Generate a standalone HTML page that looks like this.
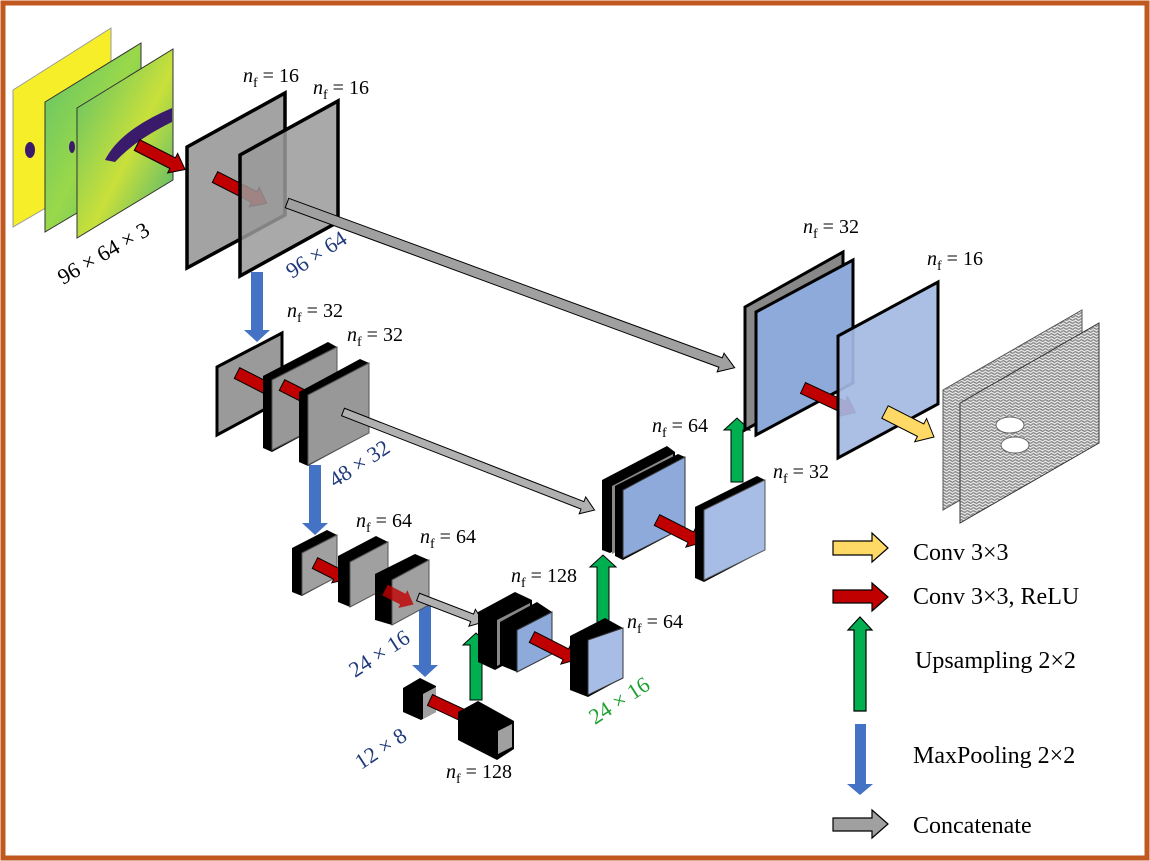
<!DOCTYPE html>
<html><head><meta charset="utf-8"><style>
html,body{margin:0;padding:0;background:#fff}
svg{display:block}
text{font-family:"Liberation Serif",serif}
</style></head><body>
<svg width="1150" height="861" viewBox="0 0 1150 861" xmlns="http://www.w3.org/2000/svg">
<defs>
<linearGradient id="gg" x1="0" y1="0" x2="1" y2="1"><stop offset="0" stop-color="#5ec26a"/><stop offset="0.5" stop-color="#9ad84a"/><stop offset="1" stop-color="#4fba74"/></linearGradient>
<linearGradient id="gg2" x1="0" y1="0" x2="1" y2="1"><stop offset="0" stop-color="#56c06c"/><stop offset="0.55" stop-color="#c9e03a"/><stop offset="1" stop-color="#3fb07a"/></linearGradient>
<pattern id="wav" width="6" height="3" patternUnits="userSpaceOnUse"><rect width="6" height="3" fill="#e2e2e2"/><path d="M0,1.5 Q1.5,0 3,1.5 T6,1.5" stroke="#6a6a6a" stroke-width="0.9" fill="none"/></pattern>
</defs>
<rect x="3" y="3" width="1144" height="855" fill="#fff" stroke="#c0581f" stroke-width="5"/>

<!-- input images -->
<polygon points="13,90 111,28 111,170 13,227" fill="#f7ee2a" stroke="#999" stroke-width="1"/>
<polygon points="45,102 141,43 141,175 45,232" fill="url(#gg)" stroke="#333" stroke-width="1"/>
<ellipse cx="30" cy="150" rx="5" ry="8" fill="#3a1b6b"/>
<ellipse cx="72" cy="147" rx="3" ry="6" fill="#3a1b6b"/>
<polygon points="77,108 173,49 173,180 77,238" fill="url(#gg2)" stroke="#333" stroke-width="1"/>
<path d="M105,160 Q120,130 172,108 L172,122 Q135,140 115,162 Z" fill="#3a1b6b"/>
<text x="0" y="0" font-size="22" transform="translate(63,285) rotate(-30)">96 × 64 × 3</text>

<!-- level1 grey planes -->
<polygon points="187,147 285,93 285,215 187,268" fill="#a3a3a3" stroke="#000" stroke-width="3.5"/>
<g transform="translate(215,177) rotate(27)"><polygon points="0,-6 44,-6 44,-11 58,0 44,11 44,6 0,6" fill="#c00000" stroke="#000" stroke-width="1"/></g>
<polygon points="240,155 338,101 338,222 240,276" fill="#9a9a9a" fill-opacity="0.85" stroke="#000" stroke-width="3.5"/>
<g transform="translate(137,145) rotate(27)"><polygon points="0,-6 40,-6 40,-11 54,0 40,11 40,6 0,6" fill="#c00000" stroke="#000" stroke-width="1"/></g>
<text x="0" y="0" font-size="22" fill="#1f3a7a" transform="translate(292,279) rotate(-33)">96 × 64</text>

<!-- concat long -->
<g transform="translate(287,203) rotate(20.2)"><polygon points="0,-5 462,-5 462,-10 477,0 462,10 462,5 0,5" fill="#a0a0a0" stroke="#000" stroke-width="1"/></g>

<!-- blue down arrows -->
<polygon points="251,272 263,272 263,330 270,330 257,342 244,330 251,330" fill="#4472c4"/>
<polygon points="309,465 321,465 321,523 328,523 315,535 302,523 309,523" fill="#4472c4"/>
<polygon points="419,605 431,605 431,665 438,665 425,677 412,665 419,665" fill="#4472c4"/>

<!-- level2 -->
<polygon points="217,367 282,333 282,400 217,435" fill="#9a9a9a" stroke="#000" stroke-width="3"/>
<g transform="translate(237,373) rotate(27)"><polygon points="0,-6 40,-6 40,-11 54,0 40,11 40,6 0,6" fill="#c00000" stroke="#000" stroke-width="1"/></g>
<polygon points="263,376 328,342 337,347 337,417 272,452 263,448" fill="#000"/>
<polygon points="272,380 337,347 337,417 272,450" fill="#a8a8a8" fill-opacity="0.9" stroke="#555" stroke-width="1"/>
<g transform="translate(282,385) rotate(27)"><polygon points="0,-6 42,-6 42,-11 56,0 42,11 42,6 0,6" fill="#c00000" stroke="#000" stroke-width="1"/></g>
<polygon points="299,392 360,359 369,363 369,433 308,466 299,462" fill="#000"/>
<polygon points="308,395 369,363 369,433 308,465" fill="#a8a8a8" fill-opacity="0.9" stroke="#555" stroke-width="1"/>
<text x="0" y="0" font-size="22" fill="#1f3a7a" transform="translate(335,488) rotate(-33)">48 × 32</text>
<g transform="translate(343,412) rotate(21.3)"><polygon points="0,-4 257,-4 257,-9 270,0 257,9 257,4 0,4" fill="#b0b0b0" stroke="#000" stroke-width="1"/></g>

<!-- level3 -->
<polygon points="292,548 327,530 337,535 337,577 302,596 292,592" fill="#000"/>
<polygon points="302,553 337,535 337,577 302,595" fill="#a0a0a0" stroke="#555" stroke-width="1"/>
<g transform="translate(315,563) rotate(27)"><polygon points="0,-6 24,-6 24,-10 36,0 24,10 24,6 0,6" fill="#c00000" stroke="#000" stroke-width="1"/></g>
<polygon points="338,556 376,536 388,542 388,587 350,607 338,602" fill="#000"/>
<polygon points="350,562 388,542 388,587 350,607" fill="#a0a0a0" stroke="#555" stroke-width="1"/>
<polygon points="375,574 415,554 429,560 429,605 392,625 375,620" fill="#000"/>
<polygon points="392,580 429,560 429,605 392,625" fill="#a0a0a0" stroke="#555" stroke-width="1"/>
<g transform="translate(385,590) rotate(27)"><polygon points="0,-6 20,-6 20,-10 32,0 20,10 20,6 0,6" fill="#c00000" fill-opacity="0.8"/></g>
<text x="0" y="0" font-size="22" fill="#1f3a7a" transform="translate(355,678) rotate(-33)">24 × 16</text>
<g transform="translate(418,597) rotate(21)"><polygon points="0,-4 58,-4 58,-9 70,0 58,9 58,4 0,4" fill="#b0b0b0" stroke="#000" stroke-width="1"/></g>

<!-- level4 -->
<polygon points="403,688 420,678 436,686 436,712 421,720 403,712" fill="#000"/>
<polygon points="423,694 436,687 436,712 423,719" fill="#a0a0a0"/>
<g transform="translate(430,700) rotate(25)"><polygon points="0,-6 38,-6 38,-6 38,6 0,6" fill="#c00000" stroke="#000" stroke-width="1"/></g>
<polygon points="458,712 478,701 514,721 514,749 497,760 458,740" fill="#000"/>
<polygon points="498,731 512,724 512,747 498,754" fill="#a0a0a0"/>
<text x="0" y="0" font-size="22" fill="#1f3a7a" transform="translate(361,770) rotate(-33)">12 × 8</text>

<!-- green up arrows -->
<polygon points="470,700 482,700 482,645 489,645 476,633 463,645 470,645" fill="#00b050" stroke="#000" stroke-width="1"/>
<polygon points="597,635 609,635 609,567 616,567 603,555 590,567 597,567" fill="#00b050" stroke="#000" stroke-width="1"/>
<polygon points="731,482 743,482 743,430 750,430 737,418 724,430 731,430" fill="#00b050" stroke="#000" stroke-width="1"/>

<!-- decoder level3 -->
<polygon points="478,612 515,592 532,600 532,650 495,670 478,662" fill="#000"/>
<polygon points="497,620 530,603 530,648 497,666" fill="#888"/>
<polygon points="500,622 537,602 552,612 552,654 517,672 500,665" fill="#000"/>
<polygon points="517,630 552,612 552,654 517,672" fill="#8eaadb" stroke="#333" stroke-width="1"/>
<g transform="translate(532,637) rotate(27)"><polygon points="0,-6 38,-6 38,-11 50,0 38,11 38,6 0,6" fill="#c00000" stroke="#000" stroke-width="1"/></g>
<polygon points="570,636 605,618 623,628 623,678 588,697 570,690" fill="#000"/>
<polygon points="588,640 623,628 623,678 588,695" fill="#a8bde6" stroke="#333" stroke-width="1"/>
<text x="0" y="0" font-size="22" fill="#1aa030" transform="translate(595,725) rotate(-33)">24 × 16</text>

<!-- decoder level2 -->
<polygon points="602,480 667,446 675,452 675,520 610,553 602,550" fill="#000"/>
<polygon points="612,486 673,454 673,522 612,554" fill="#888"/>
<polygon points="615,486 678,454 685,457 685,527 623,560 615,556" fill="#000"/>
<polygon points="623,490 685,457 685,527 623,558" fill="#8eaadb" stroke="#333" stroke-width="1"/>
<g transform="translate(657,520) rotate(27)"><polygon points="0,-6 38,-6 38,-11 50,0 38,11 38,6 0,6" fill="#c00000" stroke="#000" stroke-width="1"/></g>
<polygon points="695,507 757,476 765,480 765,550 704,582 695,578" fill="#000"/>
<polygon points="704,510 765,480 765,550 704,580" fill="#a8bde6" stroke="#555" stroke-width="1"/>

<!-- decoder level1 -->
<polygon points="745,307 843,252 843,375 745,430" fill="#888" stroke="#000" stroke-width="3"/>
<polygon points="756,312 853,260 853,383 756,435" fill="#8eaadb" stroke="#000" stroke-width="3"/>
<g transform="translate(803,388) rotate(25)"><polygon points="0,-6 44,-6 44,-11 58,0 44,11 44,6 0,6" fill="#c00000" stroke="#000" stroke-width="1"/></g>
<polygon points="838,336 938,282 938,404 838,458" fill="#a4b8e2" fill-opacity="0.92" stroke="#000" stroke-width="3"/>
<g transform="translate(885,412) rotate(27)"><polygon points="0,-7 40,-7 40,-13 55,0 40,13 40,7 0,7" fill="#ffd966" stroke="#000" stroke-width="1"/></g>

<!-- output images -->
<polygon points="943,390 1082,310 1082,430 943,510" fill="url(#wav)" stroke="#555" stroke-width="1"/>
<polygon points="960,403 1099,323 1099,443 960,523" fill="url(#wav)" stroke="#333" stroke-width="1"/>
<ellipse cx="1010" cy="425" rx="14" ry="8" fill="#fff" stroke="#666"/>
<ellipse cx="1015" cy="445" rx="14" ry="8" fill="#fff" stroke="#666"/>

<!-- nf labels -->
<g font-size="20">
<text x="243" y="82"><tspan font-style="italic">n</tspan><tspan font-size="14" dy="5">f</tspan><tspan dy="-5"> = 16</tspan></text>
<text x="313" y="94"><tspan font-style="italic">n</tspan><tspan font-size="14" dy="5">f</tspan><tspan dy="-5"> = 16</tspan></text>
<text x="287" y="317"><tspan font-style="italic">n</tspan><tspan font-size="14" dy="5">f</tspan><tspan dy="-5"> = 32</tspan></text>
<text x="347" y="341"><tspan font-style="italic">n</tspan><tspan font-size="14" dy="5">f</tspan><tspan dy="-5"> = 32</tspan></text>
<text x="356" y="527"><tspan font-style="italic">n</tspan><tspan font-size="14" dy="5">f</tspan><tspan dy="-5"> = 64</tspan></text>
<text x="420" y="543"><tspan font-style="italic">n</tspan><tspan font-size="14" dy="5">f</tspan><tspan dy="-5"> = 64</tspan></text>
<text x="511" y="582"><tspan font-style="italic">n</tspan><tspan font-size="14" dy="5">f</tspan><tspan dy="-5"> = 128</tspan></text>
<text x="446" y="778"><tspan font-style="italic">n</tspan><tspan font-size="14" dy="5">f</tspan><tspan dy="-5"> = 128</tspan></text>
<text x="627" y="628"><tspan font-style="italic">n</tspan><tspan font-size="14" dy="5">f</tspan><tspan dy="-5"> = 64</tspan></text>
<text x="652" y="432"><tspan font-style="italic">n</tspan><tspan font-size="14" dy="5">f</tspan><tspan dy="-5"> = 64</tspan></text>
<text x="773" y="478"><tspan font-style="italic">n</tspan><tspan font-size="14" dy="5">f</tspan><tspan dy="-5"> = 32</tspan></text>
<text x="803" y="233"><tspan font-style="italic">n</tspan><tspan font-size="14" dy="5">f</tspan><tspan dy="-5"> = 32</tspan></text>
<text x="927" y="265"><tspan font-style="italic">n</tspan><tspan font-size="14" dy="5">f</tspan><tspan dy="-5"> = 16</tspan></text>
</g>

<!-- legend -->
<polygon points="833,541 872,541 872,533 888,548 872,562 872,555 833,555" fill="#ffd966" stroke="#000" stroke-width="1.2"/>
<polygon points="833,590 872,590 872,583 888,597 872,611 872,603 833,603" fill="#c00000" stroke="#000" stroke-width="1.2"/>
<polygon points="854,711 866,711 866,630 872,630 860,617 848,630 854,630" fill="#00b050" stroke="#000" stroke-width="1.2"/>
<polygon points="855,724 866,724 866,784 873,784 860,795 847,784 855,784" fill="#4472c4"/>
<polygon points="833,818 872,818 872,810 888,824 872,838 872,831 833,831" fill="#a0a0a0" stroke="#000" stroke-width="1.2"/>
<g font-size="24">
<text x="913" y="560">Conv 3×3</text>
<text x="913" y="604">Conv 3×3, ReLU</text>
<text x="915" y="668">Upsampling 2×2</text>
<text x="913" y="763">MaxPooling 2×2</text>
<text x="913" y="833">Concatenate</text>
</g>
</svg>
</body></html>
